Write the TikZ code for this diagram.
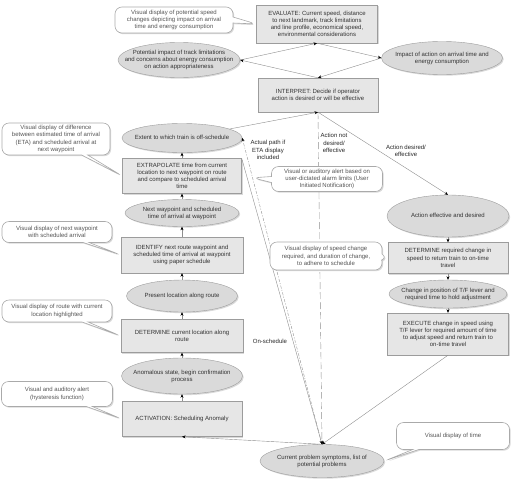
\documentclass[tikz,border=0pt]{standalone}
\usepackage{fontspec}
\setmainfont{Liberation Sans}
\usepackage{tikz}
\usetikzlibrary{arrows.meta,positioning,calc,shapes.geometric,shapes.callouts,shadows}
\definecolor{edge}{HTML}{9C9C9C}
\definecolor{boxfill}{HTML}{E6E6E6}
\definecolor{ellfill}{HTML}{DADADA}
\definecolor{coedge}{HTML}{AAAAAA}
\definecolor{cotext}{HTML}{555555}
\definecolor{ink}{HTML}{333333}
\definecolor{wire}{HTML}{8E8E8E}
\newcommand{\elltxt}[1]{\raisebox{-.3em}[0pt][0pt]{\makebox[0pt]{\begin{tabular}{@{}c@{}}#1\end{tabular}}}}

\begin{document}
\begin{tikzpicture}[x=1pt, y=-1pt, font=\fontsize{6}{7.2}\selectfont, text=ink,
  sh/.style={drop shadow={shadow xshift=1.2pt, shadow yshift=-1.2pt, opacity=.3}},
  bx/.style={draw=edge, fill=boxfill, align=center, inner sep=1pt, sh},
  el/.style={ellipse, draw=edge, fill=ellfill, inner sep=0pt, sh},
  co/.style={rectangle callout, rounded corners=7pt, draw=coedge, line width=.6pt, fill=white, text=cotext, align=center,
    inner sep=1pt, callout pointer width=6pt, sh},
  arr/.style={draw=wire, -{Stealth[length=3.5pt, width=3pt, color=black]}},
  lb/.style={align=center, text=black!85, inner sep=1pt}]
  \useasboundingbox (0,0) rectangle (516,485);
  % top: evaluate / interpret
  \node[bx, minimum width=121pt, minimum height=38pt] (evalbox) at (317,24) {EVALUATE: Current speed, distance\\to next landmark, track limitations\\and line profile, economical speed,\\environmental considerations};
  \node[bx, minimum width=120pt, minimum height=34pt] (interp) at (318,95) {INTERPRET: Decide if operator\\action is desired or will be effective};
  \node[el, minimum width=121pt, minimum height=33pt] (impact) at (442,58) {\elltxt{Impact of action on arrival time and\\energy consumption}};
  \node[el, minimum width=122pt, minimum height=35pt] (potent) at (179,60) {\elltxt{Potential impact of track limitations\\and concerns about energy consumption\\on action appropriateness}};
  % left column
  \node[el, minimum width=120pt, minimum height=29pt] (extent) at (182,138) {\elltxt{Extent to which train is off-schedule}};
  \node[bx, minimum width=119pt, minimum height=35pt] (extrap) at (182,176) {EXTRAPOLATE time from current\\location to next waypoint on route\\and compare to scheduled arrival\\time};
  \node[el, minimum width=114pt, minimum height=27pt] (nextwp) at (182,213) {\elltxt{Next waypoint and scheduled\\time of arrival at waypoint}};
  \node[bx, minimum width=122pt, minimum height=36pt] (ident) at (182,255) {IDENTIFY next route waypoint and\\scheduled time of arrival at waypoint\\using paper schedule};
  \node[el, minimum width=111pt, minimum height=32pt] (present) at (182,296) {\elltxt{Present location along route}};
  \node[bx, minimum width=122pt, minimum height=33pt] (detcur) at (182,336) {DETERMINE current location along\\route};
  \node[el, minimum width=121pt, minimum height=36pt] (anomal) at (182,376) {\elltxt{Anomalous state, begin confirmation\\process}};
  \node[bx, minimum width=120pt, minimum height=35pt] (activ) at (182,419) {ACTIVATION: Scheduling Anomaly};
  \node[el, minimum width=124pt, minimum height=33pt] (sympt) at (322,461) {\elltxt{Current problem symptoms, list of\\potential problems}};
  % right column
  \node[el, minimum width=122pt, minimum height=42pt] (effect) at (448,216) {\elltxt{Action effective and desired}};
  \node[bx, minimum width=120pt, minimum height=31pt] (detreq) at (448,258) {DETERMINE required change in\\speed to return train to on-time\\travel};
  \node[el, minimum width=118pt, minimum height=28pt] (change) at (448,294) {\elltxt{Change in position of T/F lever and\\required time to hold adjustment}};
  \node[bx, minimum width=121pt, minimum height=42pt] (execute) at (448,334) {EXECUTE change in speed using\\T/F lever for required amount of time\\to adjust speed and return train to\\on-time travel};

  \draw[arr] (interp.north) -- (potent.east);
  \draw[arr] (potent.east) -- (evalbox.south);
  \draw[arr] (evalbox.south) -- (impact.west);
  \draw[arr] (impact.west) -- (interp.north);
  \draw[arr] (extent) -- (interp.south);
  \draw[arr] (interp.south) -- (effect.north);
  \foreach \a/\b in {activ/anomal, anomal/detcur, detcur/present, present/ident, ident/nextwp,
    nextwp/extrap, extrap/extent, effect/detreq, detreq/change, change/execute}
    \draw[arr] (\a) -- (\b);
  \draw[arr, dash pattern=on 7pt off 3pt] (interp.south) -- (sympt.north);
  \draw[arr, dash pattern=on 3pt off 1.5pt on 1pt off 1.5pt] (sympt.north) -- (extent.east);
  \draw[arr] (extrap.north east) -- (sympt.north);
  \draw[arr] (execute.south) -- (sympt.north);
  \draw[arr] (sympt.north) -- (activ.south);
  \coordinate (etapt) at ($(extent.east)!.13!(sympt.north)$);

  \node[lb] (lbeta) at (268,150) {Actual path if\\ETA display\\included};
  \node[lb, fill=white] (lbnot) at (334,143) {Action not\\desired/\\effective};
  \node[lb] (lbyes) at (406,151) {Action desired/\\effective};
  \node[lb] (lbon) at (270,341) {On-schedule};

  % callouts
  \node[co, minimum width=118pt, minimum height=26pt, callout absolute pointer={(evalbox.west)}] (spdcall) at (174,20) {Visual display of potential speed\\changes depicting impact on arrival\\time and energy consumption};
  \node[co, minimum width=108pt, minimum height=32pt, callout absolute pointer={(extrap.west)}] (etacall) at (56,139) {Visual display of difference\\between estimated time of arrival\\(ETA) and scheduled arrival at\\next waypoint};
  \node[co, minimum width=110pt, minimum height=21pt, callout absolute pointer={(ident.west)}] (wpcall) at (57,232) {Visual display of next waypoint\\with scheduled arrival};
  \node[co, minimum width=110pt, minimum height=22pt, callout absolute pointer={(detcur.west)}] (routecall) at (57,311) {Visual display of route with current\\location highlighted};
  \node[co, minimum width=111pt, minimum height=25pt, callout absolute pointer={(activ.west)}] (alertcall) at (57,394) {Visual and auditory alert\\(hysteresis function)};
  \node[co, minimum width=111pt, minimum height=25pt, callout absolute pointer={(etapt)}] (usercall) at (327,179) {Visual or auditory alert based on\\user-dictated alarm limits (User\\Initiated Notification)};
  \node[co, minimum width=112pt, minimum height=28pt, callout absolute pointer={(detreq.west)}] (chgcall) at (326,256) {Visual display of speed change\\required, and duration of change,\\to adhere to schedule};
  \node[co, minimum width=113pt, minimum height=27pt, callout absolute pointer={(sympt.east)}] (timecall) at (453,436) {Visual display of time};
\end{tikzpicture}
\end{document}
